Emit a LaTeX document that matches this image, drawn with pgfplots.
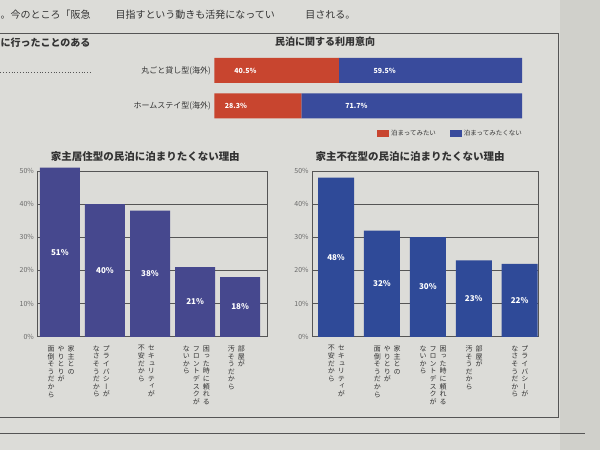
\documentclass[border=0pt]{standalone}
\usepackage{fontspec}
\setmainfont{Noto Sans CJK JP}
\newfontfamily\tatefont[RawFeature=+vert]{Noto Sans CJK JP}
\usepackage{pgfplots}
\pgfplotsset{compat=1.18}
\definecolor{paper}{HTML}{DCDCD8}
\definecolor{paperdark}{HTML}{D0D0CB}
\definecolor{redbar}{HTML}{C8452F}
\definecolor{bluetop}{HTML}{394B9C}
\definecolor{blueL}{HTML}{46488E}
\definecolor{blueR}{HTML}{2F4A98}
\definecolor{ink}{HTML}{333333}
\definecolor{gridc}{HTML}{555555}
\definecolor{tickc}{HTML}{6A6A6A}
\makeatletter
\newcommand\tcol[1]{\vtop{\baselineskip=7.6pt\lineskiplimit=-20pt\lineskip=0pt\@tfor\x:=#1\do{\hbox to 7.5pt{\hss\x\hss}}}}
\makeatother
\newcommand\tate[1]{{\tatefont\fontsize{7}{7.6}\selectfont #1}}
\newcommand\gap{\hspace{2.5pt}}
\begin{document}
\begin{tikzpicture}
\fill[paper] (0,0) rectangle (600pt,450pt);
\fill[paperdark] (560pt,0) rectangle (600pt,450pt);
% newspaper fragments
\node[anchor=west, text=ink, font=\fontsize{10}{11}\selectfont, inner sep=0] at (0pt,435pt) {。今のところ「阪急};
\node[anchor=west, text=ink, font=\fontsize{10}{11}\selectfont, inner sep=0] at (115pt,435pt) {目指すという動きも活発になってい};
\node[anchor=west, text=ink, font=\fontsize{10}{11}\selectfont, inner sep=0] at (305pt,435pt) {目される。};
\node[anchor=west, text=ink, font=\fontsize{10}{11}\selectfont\bfseries, inner sep=0] at (0pt,407pt) {に行ったことのある};
\draw[gridc, dotted, line width=0.8pt] (0pt,378pt) -- (92pt,378pt);
% frame
\draw[gridc, line width=0.7pt] (0pt,417pt) -- (558pt,417pt) -- (558pt,32pt) -- (0pt,32pt);
\draw[gridc, line width=0.7pt] (0pt,16pt) -- (585pt,16pt);
% titles
\node[text=ink, font=\fontsize{10}{11}\selectfont\bfseries] at (325pt,408pt) {民泊に関する利用意向};
\node[text=ink, font=\fontsize{10.5}{12}\selectfont\bfseries] at (145pt,293pt) {家主居住型の民泊に泊まりたくない理由};
\node[text=ink, font=\fontsize{10.5}{12}\selectfont\bfseries] at (410pt,293pt) {家主不在型の民泊に泊まりたくない理由};

% top stacked bar chart
\begin{axis}[
  at={(214pt,326.25pt)}, anchor=south west, scale only axis,
  width=308pt, height=71pt,
  xbar stacked, bar width=25pt,
  xmin=0, xmax=100, ymin=-0.5, ymax=1.5,
  ytick={0,1}, yticklabels={ホームステイ型(海外),丸ごと貸し型(海外)},
  xtick=\empty, axis line style={draw=none}, tick style={draw=none},
  yticklabel style={font=\fontsize{8}{9}\selectfont, text=ink},
  nodes near coords, point meta=explicit symbolic,
  visualization depends on={rawx \as \rawx},
  every node near coord/.append style={anchor=center, xshift={-0.77pt*\rawx}, text=white, font=\fontsize{7}{8}\selectfont\bfseries},
  legend columns=2,
  legend image code/.code={\fill[#1] (0pt,-3.5pt) rectangle (12pt,3.5pt);},
  legend style={at={(1,0)}, anchor=north east, xshift=5pt, yshift=-2pt, draw=none, fill=none,
    font=\fontsize{6.5}{7}\selectfont, text=ink,
    /tikz/every even column/.append style={column sep=12pt}},
]
\addplot[fill=redbar, draw=none] coordinates {(40.5,1)[40.5\%] (28.3,0)[28.3\%]};
\addplot[fill=bluetop, draw=none] coordinates {(59.5,1)[59.5\%] (71.7,0)[71.7\%]};
\legend{泊まってみたい,泊まってみたくない}
\end{axis}

% left bar chart
\begin{axis}[
  at={(37pt,113pt)}, anchor=south west, scale only axis,
  width=230pt, height=166pt, clip=false,
  xmin=-0.5, xmax=4.6, ymin=0, ymax=50,
  ytick={0,10,...,50}, xtick={0,...,4},
  yticklabel={\pgfmathprintnumber{\tick}\%},
  /pgf/number format/assume math mode=true,
  yticklabel style={font=\fontsize{7}{8}\selectfont, text=tickc},
  ymajorgrids, grid style={gridc, line width=0.6pt},
  axis line style={gridc, line width=0.6pt},
  tick style={draw=none},
  xticklabels={
    {\tate{\tcol{面倒そうだから}\gap\tcol{やりとりが}\gap\tcol{家主との}}},
    {\tate{\tcol{なさそうだから}\gap\tcol{プライバシーが}}},
    {\tate{\tcol{不安だから}\gap\tcol{セキュリティが}}},
    {\tate{\tcol{ないから}\gap\tcol{フロントデスクが}\gap\tcol{困った時に頼れる}}},
    {\tate{\tcol{汚そうだから}\gap\tcol{部屋が}}}},
  xticklabel style={anchor=north west, xshift=-16pt, yshift=-1pt, text=ink},
  ybar, bar width=40pt,
  nodes near coords, point meta=explicit symbolic,
  visualization depends on={rawy \as \rawy},
  every node near coord/.append style={anchor=center, yshift={-1.66pt*\rawy}, text=white, font=\fontsize{8}{9}\selectfont\bfseries},
]
\addplot[fill=blueL, draw=none] coordinates {(0,51)[51\%] (1,40)[40\%] (2,38)[38\%] (3,21)[21\%] (4,18)[18\%]};
\end{axis}

% right bar chart
\begin{axis}[
  at={(312pt,113pt)}, anchor=south west, scale only axis,
  width=226pt, height=166pt, clip=false,
  xmin=-0.52, xmax=4.4, ymin=0, ymax=50,
  ytick={0,10,...,50}, xtick={0,...,4},
  yticklabel={\pgfmathprintnumber{\tick}\%},
  /pgf/number format/assume math mode=true,
  yticklabel style={font=\fontsize{7}{8}\selectfont, text=tickc},
  ymajorgrids, grid style={gridc, line width=0.6pt},
  axis line style={gridc, line width=0.6pt},
  tick style={draw=none},
  xticklabels={
    {\tate{\tcol{不安だから}\gap\tcol{セキュリティが}}},
    {\tate{\tcol{面倒そうだから}\gap\tcol{やりとりが}\gap\tcol{家主との}}},
    {\tate{\tcol{ないから}\gap\tcol{フロントデスクが}\gap\tcol{困った時に頼れる}}},
    {\tate{\tcol{汚そうだから}\gap\tcol{部屋が}}},
    {\tate{\tcol{なさそうだから}\gap\tcol{プライバシーが}}}},
  xticklabel style={anchor=north west, xshift=-12pt, yshift=-1pt, text=ink},
  ybar, bar width=36pt,
  nodes near coords, point meta=explicit symbolic,
  visualization depends on={rawy \as \rawy},
  every node near coord/.append style={anchor=center, yshift={-1.66pt*\rawy}, text=white, font=\fontsize{8}{9}\selectfont\bfseries},
]
\addplot[fill=blueR, draw=none] coordinates {(0,48)[48\%] (1,32)[32\%] (2,30)[30\%] (3,23)[23\%] (4,22)[22\%]};
\end{axis}
\end{tikzpicture}
\end{document}
